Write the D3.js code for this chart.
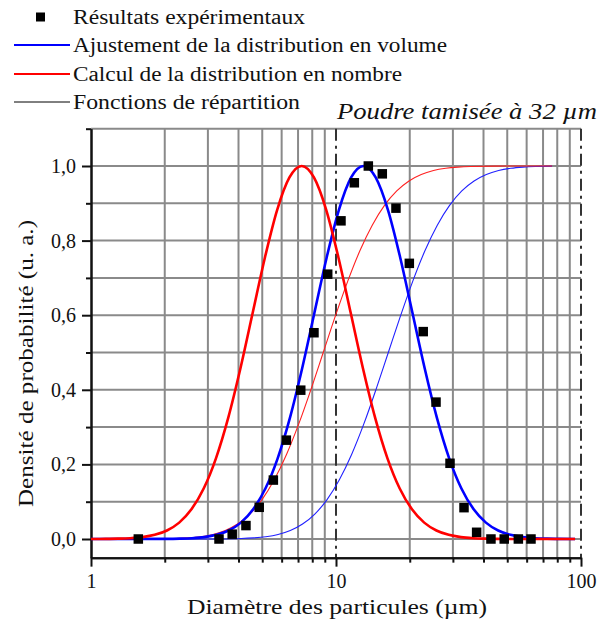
<!DOCTYPE html>
<html>
<head>
<meta charset="utf-8">
<script src="https://cdn.jsdelivr.net/npm/d3@7"></script>
<style>
  body { margin: 0; background: #ffffff; }
  text { font-family: "Liberation Serif", "DejaVu Serif", serif; fill: #111; }
</style>
</head>
<body>
<svg id="chart" width="600" height="623"></svg>
<script>
// ---------- Data ----------
const diametresMesures = [1.56, 3.33, 3.77, 4.29, 4.86, 5.55, 6.27, 7.18, 8.13, 9.25, 10.48, 11.88, 13.55, 15.45, 17.57, 19.92, 22.7, 25.6, 29.2, 33.3, 37.5, 42.9, 48.6, 55.5, 62.5];
const densitesMesurees = [0, 0, 0.013, 0.036, 0.085, 0.158, 0.265, 0.399, 0.553, 0.710, 0.853, 0.955, 1.0, 0.979, 0.887, 0.739, 0.556, 0.367, 0.203, 0.084, 0.018, 0, 0, 0, 0];

// Ajustement de la distribution en volume (bleu épais)
const xVolume = [1, 2.051, 2.301, 2.582, 2.897, 3.250, 3.647, 4.092, 4.591, 5.151, 5.780, 6.485, 7.277, 8.165, 9.161, 10.28, 11.53, 12.94, 14.52, 16.29, 18.28, 20.51, 23.01, 25.82, 28.97, 32.50, 36.47, 40.92, 45.91, 51.52, 57.80, 64.85, 72.77, 81.65, 94.6];
const yVolume = [0, 0.0003, 0.0009, 0.0022, 0.0051, 0.0111, 0.0228, 0.0439, 0.0796, 0.1353, 0.2163, 0.3247, 0.4578, 0.6065, 0.7548, 0.8825, 0.9692, 1, 0.9692, 0.8825, 0.7548, 0.6065, 0.4578, 0.3247, 0.2163, 0.1353, 0.0796, 0.0439, 0.0228, 0.0111, 0.0051, 0.0022, 0.0009, 0.0003, 0];

// Calcul de la distribution en nombre (rouge épais)
const xNombre = [1, 1.148, 1.288, 1.445, 1.622, 1.820, 2.042, 2.291, 2.570, 2.884, 3.236, 3.631, 4.074, 4.571, 5.128, 5.754, 6.456, 7.244, 8.128, 9.120, 10.23, 11.48, 12.88, 14.45, 16.22, 18.20, 20.42, 22.91, 25.70, 28.84, 32.36, 36.31, 40.74, 45.71, 57.54, 72.44, 94.6];
const yNombre = [0, 0.0003, 0.0009, 0.0022, 0.0051, 0.0111, 0.0228, 0.0439, 0.0796, 0.1353, 0.2163, 0.3247, 0.4578, 0.6065, 0.7548, 0.8825, 0.9692, 1, 0.9692, 0.8825, 0.7548, 0.6065, 0.4578, 0.3247, 0.2163, 0.1353, 0.0796, 0.0439, 0.0228, 0.0111, 0.0051, 0.0022, 0.0009, 0.0003, 0, 0, 0];

// Fonctions de répartition (traits fins)
const xRepNombre = [1, 1.770, 2.228, 2.500, 2.805, 3.147, 3.531, 3.962, 4.445, 4.988, 5.597, 6.280, 7.046, 7.906, 8.870, 9.952, 11.17, 12.53, 14.06, 15.77, 17.70, 19.86, 22.28, 25.00, 28.05, 31.47, 35.31, 44.46, 76.2];
const yRepNombre = [0, 0.0002, 0.0013, 0.0030, 0.0062, 0.0122, 0.0228, 0.0401, 0.0668, 0.1056, 0.1587, 0.2266, 0.3085, 0.4013, 0.5, 0.5987, 0.6915, 0.7734, 0.8413, 0.8944, 0.9332, 0.9599, 0.9772, 0.9878, 0.9938, 0.9970, 0.9987, 0.9998, 1];
const xRepVolume = [1, 2.591, 3.262, 4.107, 4.608, 5.170, 5.801, 6.509, 7.303, 8.194, 9.194, 10.32, 11.58, 12.99, 14.57, 16.35, 18.35, 20.58, 23.09, 25.91, 29.08, 32.62, 36.60, 41.07, 46.08, 51.70, 58.01, 65.09, 76.2];
const yRepVolume = [0, 0, 0.0002, 0.0013, 0.0030, 0.0062, 0.0122, 0.0228, 0.0401, 0.0668, 0.1056, 0.1587, 0.2266, 0.3085, 0.4013, 0.5, 0.5987, 0.6915, 0.7734, 0.8413, 0.8944, 0.9332, 0.9599, 0.9772, 0.9878, 0.9938, 0.9970, 0.9987, 0.9996];

// Axes / labels
const xTicksMajeurs = [1, 10, 100];
const xTicksMineurs = [2, 3, 4, 5, 6, 7, 8, 9, 20, 30, 40, 50, 60, 70, 80, 90];
const yTicksMajeurs = [0, 0.2, 0.4, 0.6, 0.8, 1.0];
const yTicksMineurs = [0.1, 0.3, 0.5, 0.7, 0.9, 1.1];
const yGrille = [0, 0.1, 0.2, 0.3, 0.4, 0.5, 0.6, 0.7, 0.8, 0.9, 1.0, 1.1];
const xLignesPointTiret = [10, 100];
const legendeTextes = ["Résultats expérimentaux", "Ajustement de la distribution en volume", "Calcul de la distribution en nombre", "Fonctions de répartition"];
const titre = "Poudre tamisée à 32 µm";
const titreX = "Diamètre des particules (µm)";
const titreY = "Densité de probabilité (u. a.)";

// ---------- Drawing ----------
const svg = d3.select("#chart");
const x = d3.scaleLog().domain([1, 100]).range([91, 581]);
const y = d3.scaleLinear().domain([-0.05, 1.1]).range([557.65, 128.7]);
const fr = d3.formatLocale({decimal: ",", thousands: " ", grouping: [3], currency: ["", "€"]});
const fmtY = fr.format(".1f");

// grid
const grid = svg.append("g");
grid.selectAll("line.h").data(yGrille).join("line")
  .attr("x1", x(1)).attr("x2", x(100))
  .attr("y1", d => y(d)).attr("y2", d => y(d))
  .attr("stroke", "#8a8a8a").attr("stroke-width", 2);
grid.selectAll("line.v").data(xTicksMineurs).join("line")
  .attr("x1", d => x(d)).attr("x2", d => x(d))
  .attr("y1", y(-0.05)).attr("y2", y(1.1))
  .attr("stroke", "#8a8a8a").attr("stroke-width", 2);
svg.append("g").selectAll("line").data(xLignesPointTiret).join("line")
  .attr("x1", d => x(d)).attr("x2", d => x(d))
  .attr("y1", y(1.1)).attr("y2", y(-0.05))
  .attr("stroke", "#333").attr("stroke-width", 2)
  .attr("stroke-dasharray", "12,5,3,5");

// axes
const gy = svg.append("g").attr("transform", `translate(${x(1)},0)`);
gy.call(d3.axisLeft(y).tickValues(yTicksMajeurs).tickSize(9).tickSizeOuter(0).tickPadding(6).tickFormat(fmtY));
gy.append("g").call(d3.axisLeft(y).tickValues(yTicksMineurs).tickSize(5).tickSizeOuter(0).tickFormat(""));
const gx = svg.append("g").attr("transform", `translate(0,${y(-0.05)})`);
gx.call(d3.axisBottom(x).tickValues(xTicksMajeurs).tickSize(9).tickSizeOuter(0).tickPadding(7).tickFormat(d3.format("d")));
gx.append("g").call(d3.axisBottom(x).tickValues(xTicksMineurs).tickSize(5).tickSizeOuter(0).tickFormat(""));
svg.selectAll(".domain").attr("stroke", "#111").attr("stroke-width", 2);
svg.selectAll(".tick line").attr("stroke", "#111").attr("stroke-width", 2);
svg.selectAll(".tick text").attr("font-family", "Liberation Serif").attr("font-size", 20).attr("fill", "#111");

// curves
const ligne = d3.line().x(d => x(d[0])).y(d => y(d[1])).curve(d3.curveMonotoneX);
const serie = (xs, ys) => xs.map((v, i) => [v, ys[i]]);
svg.append("path").attr("d", ligne(serie(xRepVolume, yRepVolume)))
  .attr("fill", "none").attr("stroke", "#2020ff").attr("stroke-width", 1.1);
svg.append("path").attr("d", ligne(serie(xRepNombre, yRepNombre)))
  .attr("fill", "none").attr("stroke", "#ff2020").attr("stroke-width", 1.1);
svg.append("path").attr("d", ligne(serie(xVolume, yVolume)))
  .attr("fill", "none").attr("stroke", "#0000ff").attr("stroke-width", 2.6);
svg.append("path").attr("d", ligne(serie(xNombre, yNombre)))
  .attr("fill", "none").attr("stroke", "#ff0000").attr("stroke-width", 2.6);

// markers
const m = 9.5;
svg.append("g").selectAll("rect").data(serie(diametresMesures, densitesMesurees)).join("rect")
  .attr("x", d => x(d[0]) - m / 2).attr("y", d => y(d[1]) - m / 2)
  .attr("width", m).attr("height", m).attr("fill", "#000");

// legend
const leg = svg.append("g");
const legY = [17, 45, 74, 102];
const legW = [232, 374, 329, 227];
leg.append("rect").attr("x", 36).attr("y", legY[0] - 4.5).attr("width", 9).attr("height", 9).attr("fill", "#000");
const legCouleurs = [null, "#0000ff", "#ff0000", "#000"];
const legEp = [0, 2, 2, 1];
[1, 2, 3].forEach(i => {
  leg.append("line").attr("x1", 14).attr("x2", 70).attr("y1", legY[i]).attr("y2", legY[i])
    .attr("stroke", legCouleurs[i]).attr("stroke-width", legEp[i]);
});
legendeTextes.forEach((t, i) => {
  leg.append("text").attr("x", 73).attr("y", legY[i] + 6.5)
    .attr("font-size", 20).attr("textLength", legW[i]).attr("lengthAdjust", "spacingAndGlyphs").text(t);
});

// title & axis titles
svg.append("text").attr("x", 337).attr("y", 119).attr("font-size", 23).attr("font-style", "italic")
  .attr("textLength", 260).attr("lengthAdjust", "spacingAndGlyphs").text(titre);
svg.append("text").attr("x", 187).attr("y", 614).attr("font-size", 21)
  .attr("textLength", 300).attr("lengthAdjust", "spacingAndGlyphs").text(titreX);
svg.append("text").attr("transform", "translate(33,507) rotate(-90)").attr("font-size", 21)
  .attr("textLength", 287).attr("lengthAdjust", "spacingAndGlyphs").text(titreY);
</script>
</body>
</html>
